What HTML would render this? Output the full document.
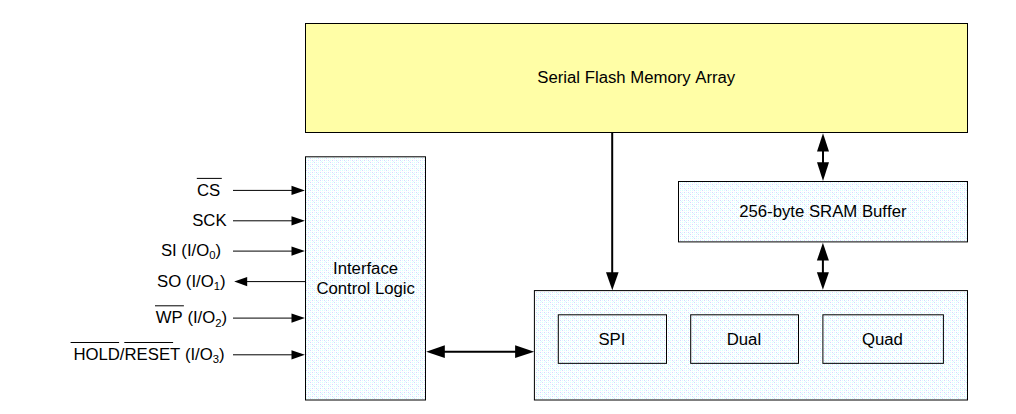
<!DOCTYPE html>
<html lang="en">
<head>
<meta charset="utf-8">
<title>Block Diagram</title>
<style>
html,body{margin:0;padding:0;background:#fff;}
body{width:1016px;height:414px;overflow:hidden;position:relative;}
svg{position:absolute;left:0;top:0;display:block;}
text{font-family:"Liberation Sans",Arial,Helvetica,sans-serif;font-size:16px;fill:#000;font-kerning:none;}
</style>
</head>
<body>
<svg width="1016" height="414" viewBox="0 0 1016 414">
<defs>
<pattern id="dots" x="0" y="0" width="8" height="8" patternUnits="userSpaceOnUse" shape-rendering="crispEdges">
<rect x="0" y="0" width="8" height="8" fill="#fff"/><rect x="0" y="0" width="1" height="1" fill="#d6d6ff"/><rect x="4" y="0" width="1" height="1" fill="#d6d6ff"/><rect x="2" y="2" width="1" height="1" fill="#d6d6ff"/><rect x="0" y="4" width="1" height="1" fill="#d6d6ff"/><rect x="4" y="4" width="1" height="1" fill="#d6d6ff"/><rect x="6" y="6" width="1" height="1" fill="#d6d6ff"/><rect x="2" y="0" width="1" height="1" fill="#d6ffff"/><rect x="6" y="0" width="1" height="1" fill="#d6ffff"/><rect x="1" y="1" width="1" height="1" fill="#d6ffff"/><rect x="0" y="2" width="1" height="1" fill="#d6ffff"/><rect x="4" y="2" width="1" height="1" fill="#d6ffff"/><rect x="6" y="2" width="1" height="1" fill="#d6ffff"/><rect x="2" y="4" width="1" height="1" fill="#d6ffff"/><rect x="6" y="4" width="1" height="1" fill="#d6ffff"/><rect x="5" y="5" width="1" height="1" fill="#d6ffff"/><rect x="0" y="6" width="1" height="1" fill="#d6ffff"/><rect x="2" y="6" width="1" height="1" fill="#d6ffff"/><rect x="4" y="6" width="1" height="1" fill="#d6ffff"/>
</pattern>
</defs>
<g>
<rect x="305.5" y="23.5" width="662.00" height="109.00" fill="#fffea6" stroke="#000" stroke-width="1"/>
<rect x="305.5" y="156.8" width="120.00" height="243.20" fill="url(#dots)" stroke="#000" stroke-width="1"/>
<rect x="678.5" y="181.5" width="289.00" height="60.40" fill="url(#dots)" stroke="#000" stroke-width="1"/>
<rect x="534.4" y="290.6" width="433.10" height="109.40" fill="url(#dots)" stroke="#000" stroke-width="1"/>
<rect x="558.3" y="314.8" width="108.20" height="48.55" fill="none" stroke="#000" stroke-width="1"/>
<rect x="690.7" y="314.8" width="107.80" height="48.55" fill="none" stroke="#000" stroke-width="1"/>
<rect x="822.9" y="314.8" width="120.50" height="48.55" fill="none" stroke="#000" stroke-width="1"/>
<line x1="612.2" y1="133" x2="612.2" y2="275" stroke="#000" stroke-width="2"/>
<polygon points="606.0,272.2 618.6,272.2 612.3,290.2" fill="#000"/>
<line x1="823.0" y1="148" x2="823.0" y2="166" stroke="#000" stroke-width="2"/>
<polygon points="823,133.3 817,151.4 829,151.4" fill="#000"/>
<polygon points="823,180.9 817,162.3 829,162.3" fill="#000"/>
<line x1="822.9" y1="257" x2="822.9" y2="276" stroke="#000" stroke-width="2"/>
<polygon points="822.9,242.8 816.9,260.6 828.9,260.6" fill="#000"/>
<polygon points="822.9,289.8 816.9,272.2 828.9,272.2" fill="#000"/>
<line x1="440" y1="351.65" x2="520" y2="351.65" stroke="#000" stroke-width="2"/>
<polygon points="426.2,351.65 444.8,345.35 444.8,357.9" fill="#000"/>
<polygon points="534.2,351.65 515.1,345.35 515.1,357.9" fill="#000"/>
<line x1="233" y1="190.4" x2="295" y2="190.4" stroke="#000" stroke-width="1"/>
<polygon points="304.9,190.4 291.5,185.8 291.5,195.0" fill="#000"/>
<line x1="233" y1="220.8" x2="295" y2="220.8" stroke="#000" stroke-width="1"/>
<polygon points="304.9,220.8 291.5,216.20000000000002 291.5,225.4" fill="#000"/>
<line x1="233" y1="251.1" x2="295" y2="251.1" stroke="#000" stroke-width="1"/>
<polygon points="304.9,251.1 291.5,246.5 291.5,255.7" fill="#000"/>
<line x1="233" y1="318.1" x2="295" y2="318.1" stroke="#000" stroke-width="1"/>
<polygon points="304.9,318.1 291.5,313.5 291.5,322.70000000000005" fill="#000"/>
<line x1="233" y1="354.8" x2="295" y2="354.8" stroke="#000" stroke-width="1"/>
<polygon points="304.9,354.8 291.5,350.2 291.5,359.40000000000003" fill="#000"/>
<line x1="244" y1="281.6" x2="305" y2="281.6" stroke="#000" stroke-width="1"/>
<polygon points="234.2,281.6 247.2,277.0 247.2,286.20000000000005" fill="#000"/>
<line x1="196.8" y1="178.4" x2="221.8" y2="178.4" stroke="#000" stroke-width="1"/>
<line x1="155.0" y1="305.8" x2="183.9" y2="305.8" stroke="#000" stroke-width="1"/>
<line x1="70.6" y1="342.5" x2="119.1" y2="342.5" stroke="#000" stroke-width="1"/>
<line x1="124.3" y1="342.5" x2="173.1" y2="342.5" stroke="#000" stroke-width="1"/>
</g>
<g>
<text transform="translate(537.3,83.0) scale(1.046,1)" >Serial Flash Memory Array</text>
<text transform="translate(739.2,216.8) scale(1.046,1)" >256-byte SRAM Buffer</text>
<text transform="translate(333.0,273.6) scale(1.046,1)" >Interface</text>
<text transform="translate(316.4,293.6) scale(1.046,1)" >Control Logic</text>
<text transform="translate(598.4,345.0) scale(1.046,1)" >SPI</text>
<text transform="translate(726.7,345.0) scale(1.046,1)" >Dual</text>
<text transform="translate(862.0,345.0) scale(1.046,1)" >Quad</text>
<text transform="translate(197.0,195.8) scale(1.046,1)" >CS</text>
<text transform="translate(192.2,226.4) scale(1.046,1)" >SCK</text>
<text transform="translate(160.9,256.0) scale(1.046,1)" >SI (I/O<tspan font-size="10.8" dy="3.2">0</tspan><tspan dy="-3.2">)</tspan></text>
<text transform="translate(157.0,287.0) scale(1.046,1)" >SO (I/O<tspan font-size="10.8" dy="3.2">1</tspan><tspan dy="-3.2">)</tspan></text>
<text transform="translate(155.8,323.3) scale(1.046,1)" >WP (I/O<tspan font-size="10.8" dy="3.2">2</tspan><tspan dy="-3.2">)</tspan></text>
<text transform="translate(73.4,359.7) scale(1.046,1)" >HOLD/RESET (I/O<tspan font-size="10.8" dy="3.2">3</tspan><tspan dy="-3.2">)</tspan></text>
</g>
</svg>
</body>
</html>
